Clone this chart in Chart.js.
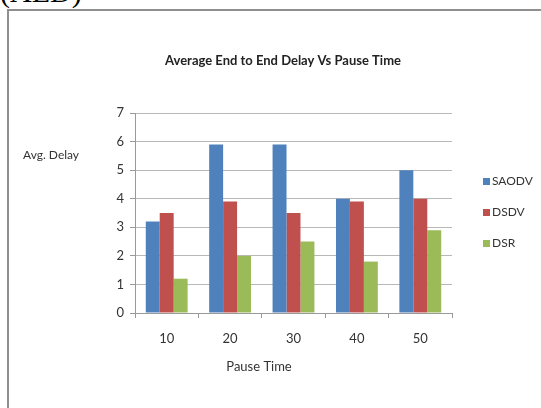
<!DOCTYPE html>
<html>
<head>
<meta charset="utf-8">
<script src="https://cdn.jsdelivr.net/npm/chart.js@4.4.1/dist/chart.umd.min.js"></script>
<style>
  html, body { margin: 0; padding: 0; background: #fff; overflow: hidden; }
  #wrap { position: relative; width: 541px; height: 408px; overflow: hidden; }
  #aed { position: absolute; left: 0; top: -23px; font-family: "Liberation Serif", serif; font-size: 30px; line-height: 30px; color: #000; }
  #frame { position: absolute; left: 7px; top: 9px; width: 600px; height: 500px;
           border-left: 2px solid #8f8f8f; border-top: 2px solid #8f8f8f; }
  canvas { position: absolute; left: 0; top: 0; }
</style>
</head>
<body>
<div id="wrap">
  <div id="aed">(AED)</div>
  <div id="frame"></div>
  <canvas id="c" width="541" height="408"></canvas>
</div>
<script>
// Pause time categories and average end-to-end delay per protocol
const categories = ['10', '20', '30', '40', '50'];
const saodv = [3.2, 5.9, 5.9, 4.0, 5.0];
const dsdv  = [3.5, 3.9, 3.5, 3.9, 4.0];
const dsr   = [1.2, 2.0, 2.5, 1.8, 2.9];
const seriesNames = ['SAODV', 'DSDV', 'DSR'];
const yMin = 0, yMax = 7, yStep = 1;

const chartTitle = 'Average End to End Delay Vs Pause Time';
const xTitle = 'Pause Time';
const yTitle = 'Avg. Delay';

const FONT = 'Lato, "Open Sans", sans-serif';
const colors = ['#4f81bd', '#c0504d', '#9bbb59'];

// Draws the heading, the axis captions and the legend
const annotations = {
  id: 'annotations',
  afterDraw(chart) {
    const ctx = chart.ctx;
    ctx.save();
    ctx.fillStyle = '#222';
    ctx.textBaseline = 'middle';

    ctx.font = 'bold 13px ' + FONT;
    ctx.textAlign = 'center';
    ctx.fillText(chartTitle, 283, 61);

    ctx.font = '13px ' + FONT;
    ctx.fillStyle = '#333';
    ctx.fillText(xTitle, 259, 367);

    ctx.textAlign = 'left';
    ctx.font = '12px ' + FONT;
    ctx.fillText(yTitle, 23, 155);

    const rowY = [181, 212, 243];
    chart.data.datasets.forEach((ds, i) => {
      ctx.fillStyle = ds.backgroundColor;
      ctx.fillRect(483, rowY[i] - 3, 7, 7);
      ctx.fillStyle = '#333';
      ctx.font = '12px ' + FONT;
      ctx.fillText(ds.label, 492, rowY[i] + 0.5);
    });
    ctx.restore();
  }
};

new Chart(document.getElementById('c'), {
  type: 'bar',
  data: {
    labels: categories,
    datasets: [
      { label: seriesNames[0], data: saodv, backgroundColor: colors[0] },
      { label: seriesNames[1], data: dsdv,  backgroundColor: colors[1] },
      { label: seriesNames[2], data: dsr,   backgroundColor: colors[2] }
    ]
  },
  options: {
    responsive: false,
    animation: false,
    events: [],
    layout: { padding: { top: 113, right: 89, left: 0, bottom: 0 } },
    datasets: { bar: { categoryPercentage: 0.66, barPercentage: 1.0, borderWidth: 0 } },
    plugins: { legend: { display: false }, title: { display: false }, tooltip: { enabled: false } },
    scales: {
      x: {
        offset: true,
        grid: { offset: true, drawOnChartArea: false, drawTicks: true, tickLength: 5, color: '#9a9a9a' },
        border: { color: '#9a9a9a' },
        ticks: { font: { family: FONT, size: 13 }, color: '#333', padding: 13, maxRotation: 0 },
        afterFit(s) { s.height = 95; }
      },
      y: {
        min: yMin, max: yMax,
        ticks: { stepSize: yStep, font: { family: FONT, size: 13 }, color: '#333', padding: 6 },
        grid: { color: '#b8b8b8', tickLength: 5, tickColor: '#9a9a9a' },
        border: { color: '#9a9a9a' },
        afterFit(s) { s.width = 135; }
      }
    }
  },
  plugins: [annotations]
});
</script>
</body>
</html>
